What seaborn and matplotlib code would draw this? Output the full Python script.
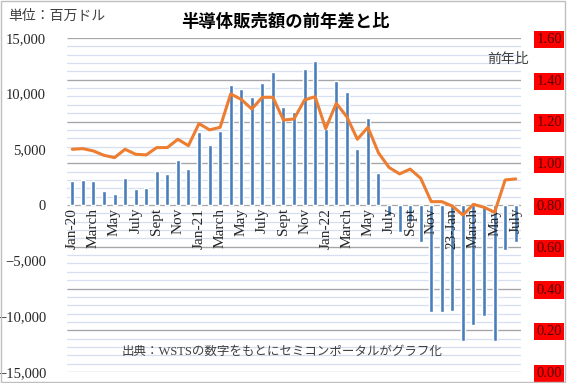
import numpy as np
import pandas as pd
import matplotlib.pyplot as plt
import matplotlib.ticker as mticker
from matplotlib.patches import Rectangle
import seaborn as sns

# Monthly data, Jan-2020 .. Jul-2023
months = pd.date_range('2020-01-01', '2023-07-01', freq='MS').strftime('%b-%y').tolist()

# year-over-year difference of semiconductor sales (million USD)
diff_values = [2150, 2280, 2160, 1230, 990, 2430, 1440, 1530, 3080, 2810, 4070, 3230,
               6560, 5380, 6670, 10780, 10420, 9730, 10930, 11950, 8800, 8360, 12190, 12940,
               6800, 11170, 10120, 5030, 7850, 2850, -960, -2430, -1500, -3300, -9580, -9650,
               -9520, -12190, -10750, -9940, -12190, -4040, -3300]

# year-over-year ratio
ratio_values = [1.067, 1.070, 1.059, 1.038, 1.027, 1.067, 1.043, 1.040, 1.075, 1.075, 1.115, 1.084,
                1.190, 1.160, 1.172, 1.332, 1.306, 1.260, 1.316, 1.316, 1.207, 1.212, 1.303, 1.319,
                1.166, 1.287, 1.223, 1.115, 1.172, 1.050, 0.980, 0.949, 0.972, 0.928, 0.816, 0.816,
                0.795, 0.752, 0.803, 0.789, 0.765, 0.920, 0.925]

tick_labels = ['Jan-20', 'March', 'May', 'July', 'Sept', 'Nov',
               'Jan-21', 'March', 'May', 'July', 'Sept', 'Nov',
               'Jan-22', 'March', 'May', 'July', 'Sept', 'Nov',
               '23-Jan', 'March', 'May', 'July']

df = pd.DataFrame({'month': months, 'diff': diff_values, 'ratio': ratio_values})
df['pos'] = np.arange(len(df))

sns.set_style('white')
plt.rcParams['font.family'] = ['Liberation Serif', 'Noto Sans CJK JP', 'DejaVu Sans']

fig = plt.figure(figsize=(5.67, 3.83), dpi=100)
ax = fig.add_axes([67 / 567, 1 - 372 / 383, 454 / 567, 334 / 383])

# bars (left axis)
sns.barplot(data=df, x='month', y='diff', color='#4a7ebb', saturation=1,
            width=0.38, ax=ax, zorder=2)

# ratio line (right axis)
ax2 = ax.twinx()
sns.lineplot(x=df['pos'], y=df['ratio'], color='#ed7d31', linewidth=2.2, ax=ax2)

ax.set_ylim(-15000, 15000)
ax.set_xlim(-0.5, len(df) - 0.5)
ax.yaxis.set_major_locator(mticker.MultipleLocator(5000))
ax.yaxis.set_major_formatter(mticker.StrMethodFormatter('{x:,.0f}'))

# grid follows the right axis (0.2 major / 0.04 minor)
ax.yaxis.set_minor_locator(mticker.MultipleLocator(750))
ax.grid(which='minor', axis='y', color='#d6dff0', linewidth=0.9, zorder=0)
ax.tick_params(axis='y', which='minor', length=0)
ax.hlines(np.arange(-15000, 15001, 3750), -0.5, len(df) - 0.5,
          colors='#a6a6a6', linewidth=0.9, zorder=1)

ax.set_xticks(df['pos'][::2])
ax.set_xticklabels(tick_labels)
ax.spines['bottom'].set_position(('data', 0))
ax.xaxis.set_zorder(5)
ax.tick_params(axis='x', length=0, pad=2, labelrotation=90, labelsize=11, labelcolor='#262626')
ax.tick_params(axis='y', length=0, pad=15, labelsize=10.5, labelcolor='#262626')
for s in ['top', 'right', 'left', 'bottom']:
    ax.spines[s].set_visible(False)
ax.set_xlabel('')
ax.set_ylabel('')

ax2.set_ylim(0, 1.6)
ax2.yaxis.set_major_locator(mticker.MultipleLocator(0.2))
ax2.yaxis.set_major_formatter(mticker.StrMethodFormatter('{x:.2f}'))
ax2.tick_params(axis='y', length=0, pad=11, labelsize=10.5, labelcolor='#5a0000')
for lbl in ax2.get_yticklabels():
    lbl.set_bbox(dict(facecolor='#ff0000', edgecolor='none', pad=1.5))
for s in ['top', 'right', 'left', 'bottom']:
    ax2.spines[s].set_visible(False)
ax2.set_ylabel('')
ax2.set_xlabel('')

# texts
fig.text(285 / 567, 1 - 22 / 383, '半導体販売額の前年差と比', ha='center', va='center',
         fontsize=12.5, fontweight='bold', color='#000000')
fig.text(8 / 567, 1 - 16 / 383, '単位：百万ドル', ha='left', va='center',
         fontsize=10, color='#404040')
fig.text(529 / 567, 1 - 60 / 383, '前年比', ha='right', va='center',
         fontsize=10, color='#404040')
fig.text(282 / 567, 1 - 352 / 383, '出典：WSTSの数字をもとにセミコンポータルがグラフ化',
         ha='center', va='center', fontsize=9, color='#404040')

# outer frame
fig.patches.append(Rectangle((0.002, 0.003), 0.995, 0.994, transform=fig.transFigure,
                             fill=False, edgecolor='#bfbfbf', linewidth=1))

fig.savefig('out.png', dpi=100)
